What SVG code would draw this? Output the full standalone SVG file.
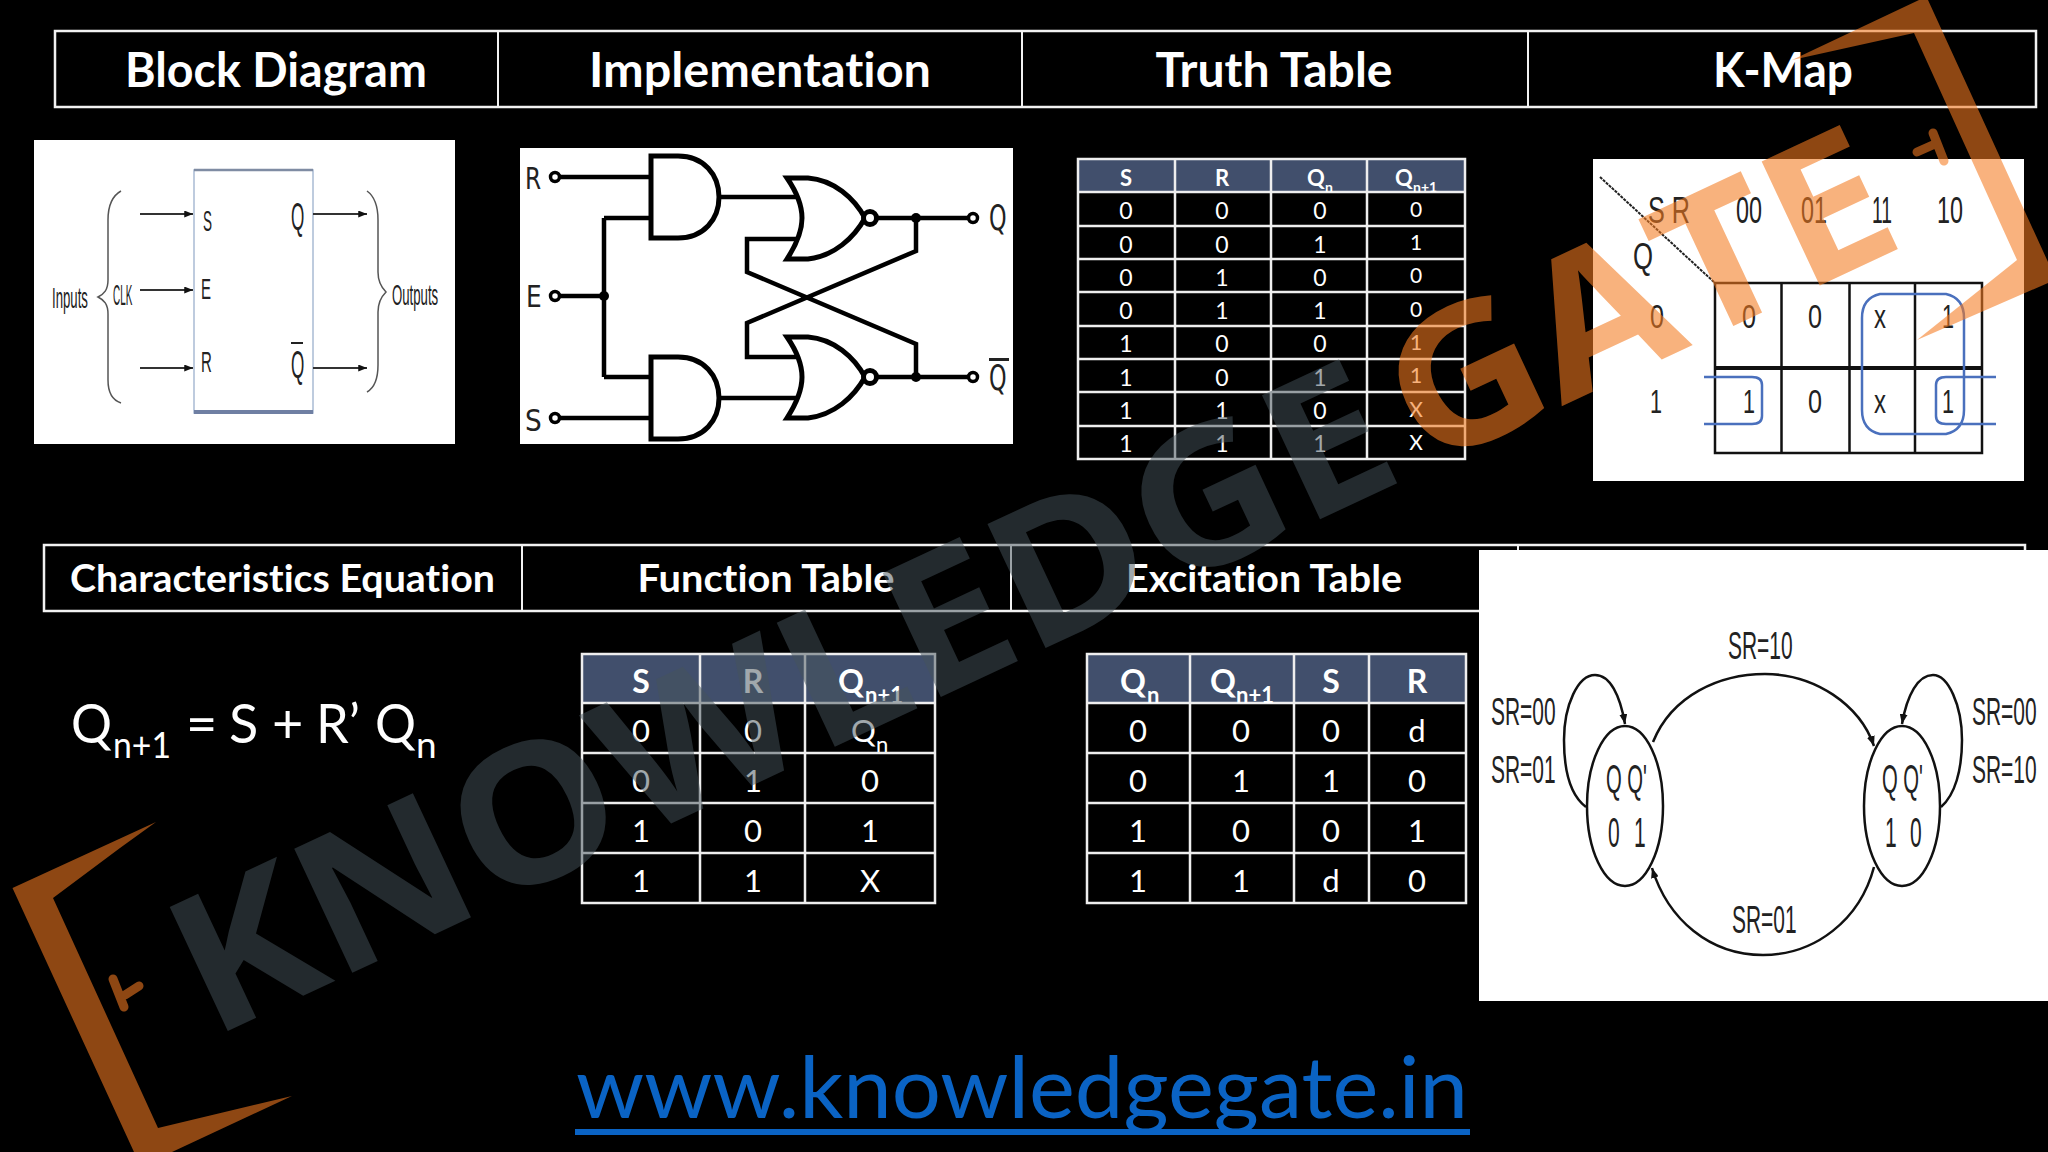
<svg xmlns="http://www.w3.org/2000/svg" width="2048" height="1152" viewBox="0 0 2048 1152">
<defs>
<marker id="ah" viewBox="0 0 10 8" refX="10" refY="4" markerWidth="10" markerHeight="8" markerUnits="userSpaceOnUse" orient="auto"><path d="M0 0L10 4L0 8Z" fill="#111"/></marker>
<marker id="as" viewBox="0 0 10 8" refX="10" refY="4" markerWidth="9" markerHeight="7" markerUnits="userSpaceOnUse" orient="auto"><path d="M0 0L10 4L0 8Z" fill="#111"/></marker>
</defs>
<style>
text{font-variant-ligatures:none}
.hb{fill:none;stroke:#f2f2f2;stroke-width:2.5}
.hl{stroke:#f2f2f2;stroke-width:2}
.ht{font-family:Lato,"Open Sans",sans-serif;font-weight:700;fill:#fff;text-anchor:middle}
.t{font-family:Lato,"Open Sans",sans-serif;fill:#fff;text-anchor:middle}
.tb{font-weight:700}
.tl{fill:none;stroke:#eee;stroke-width:2.5}
.hdr{fill:#414f6c}
.s{text-anchor:start}
.a{font-family:"Liberation Sans",Arial,sans-serif;fill:#222;text-anchor:start}
.w{stroke:#000;stroke-width:4.5;fill:none}
.g{stroke:#000;stroke-width:5;fill:#fff}
.thin{stroke:#333;stroke-width:2;fill:none}
.k{stroke:#111;stroke-width:2.5;fill:none}
.b{stroke:#4a70bd;stroke-width:2.5;fill:none}
.c{stroke:#111;stroke-width:2.5;fill:none}
.wmD{font-family:"Open Sans",sans-serif;font-weight:700;fill:#46545c;opacity:.5}
.wmO{font-family:"Open Sans",sans-serif;font-weight:700;fill:#f47b20;opacity:.58}
.or{fill:#f47b20;opacity:.58}
.ors{stroke:#f47b20;opacity:.58;stroke-width:9;fill:none;stroke-linecap:round}
</style>
<rect width="2048" height="1152" fill="#000"/>

<g id="header-top">
<rect class="hb" x="55" y="31" width="1981" height="76"/>
<path class="hl" d="M498 31V107M1022 31V107M1528 31V107"/>
<text class="ht" x="276" y="87" font-size="47" textLength="302" lengthAdjust="spacingAndGlyphs">Block Diagram</text>
<text class="ht" x="760" y="87" font-size="47" textLength="342" lengthAdjust="spacingAndGlyphs">Implementation</text>
<text class="ht" x="1274" y="87" font-size="47" textLength="237" lengthAdjust="spacingAndGlyphs">Truth Table</text>
<text class="ht" x="1783" y="87" font-size="47" textLength="140" lengthAdjust="spacingAndGlyphs">K-Map</text>
</g>

<g id="header-bottom">
<rect class="hb" x="44" y="545" width="1981" height="66"/>
<path class="hl" d="M522 545V611M1011 545V611M1518 545V550"/>
<text class="ht" x="282.500" y="592" font-size="38" textLength="425" lengthAdjust="spacingAndGlyphs">Characteristics Equation</text>
<text class="ht" x="766" y="592" font-size="38" textLength="257" lengthAdjust="spacingAndGlyphs">Function Table</text>
<text class="ht" x="1264" y="592" font-size="38" textLength="276" lengthAdjust="spacingAndGlyphs">Excitation Table</text>
</g>

<g id="block-diagram">
<rect x="34" y="140" width="421" height="304" fill="#fff"/>
<rect x="194" y="170" width="119" height="243" fill="#fff" stroke="#a9bbd3" stroke-width="1.500"/>
<path d="M194 170H313" stroke="#7f8ca3" stroke-width="2.500"/>
<path d="M194 412H313" stroke="#6f7fa3" stroke-width="4"/>
<g class="thin">
<path marker-end="url(#as)" d="M140 214H193"/><path marker-end="url(#as)" d="M140 290H193"/><path marker-end="url(#as)" d="M140 368H193"/>
<path marker-end="url(#as)" d="M313 214H367"/><path marker-end="url(#as)" d="M313 368H367"/>
<path d="M121 191C112 196 108 205 108 220V280C108 290 104 294 98 297C104 300 108 304 108 314V380C108 392 112 400 121 403" stroke="#555" stroke-width="1.500"/>
<path d="M367 191C374 196 378 205 378 220V272C378 282 382 288 386 292C382 296 378 302 378 312V365C378 378 374 388 367 392" stroke="#555" stroke-width="1.500"/>
</g>
<text class="a" transform="translate(52 308) scale(.44 1)" font-size="30">Inputs</text>
<text class="a" transform="translate(113 305) scale(.33 1)" font-size="30">CLK</text>
<text class="a" transform="translate(392 305) scale(.44 1)" font-size="30">Outputs</text>
<text class="a" transform="translate(203 231) scale(.45 1)" font-size="30">S</text>
<text class="a" transform="translate(201 299) scale(.5 1)" font-size="30">E</text>
<text class="a" transform="translate(201 372) scale(.5 1)" font-size="30">R</text>
<text class="a" transform="translate(291 230) scale(.45 1)" font-size="38">Q</text>
<text class="a" transform="translate(291 378) scale(.45 1)" font-size="38">Q</text>
<path d="M291 343H303" stroke="#222" stroke-width="2"/>
</g>

<g id="implementation">
<rect x="520" y="148" width="493" height="296" fill="#fff"/>
<g id="impl-wires">
<path class="w" d="M560 177H651M560 296H604M604 218V377M604 218H651M604 377H651M560 418H651"/>
<path class="w" d="M719 197H796M719 398H796"/>
<path class="w" d="M796 239H747V272L916 344V377M796 357H747V323L916 251V218"/>
<path class="w" d="M877 218H968M877 377H968"/>
</g>
<circle cx="604" cy="296" r="5" fill="#000"/><circle cx="916" cy="218" r="5" fill="#000"/><circle cx="916" cy="377" r="5" fill="#000"/>
<g id="and-top"><path class="g" d="M651 156H678C704 156 719 175 719 197C719 219 704 238 678 238H651Z"/></g>
<g id="and-bottom"><path class="g" d="M651 357H678C704 357 719 376 719 398C719 420 704 439 678 439H651Z"/></g>
<g id="nor-top"><path class="g" d="M787 178H808C834 180 854 198 865 218C854 238 834 256 808 259H787C798 242 802 230 802 218C802 206 798 194 787 178Z"/><ellipse class="g" cx="870" cy="218" rx="6.500" ry="6.500" stroke-width="3.500"/></g>
<g id="nor-bottom"><path class="g" d="M787 337H808C834 339 854 357 865 377C854 397 834 415 808 418H787C798 401 802 389 802 377C802 365 798 353 787 337Z"/><ellipse class="g" cx="870" cy="377" rx="6.500" ry="6.500" stroke-width="3.500"/></g>
<g fill="#fff" stroke="#000" stroke-width="3.500"><circle cx="555" cy="177" r="4.500"/><circle cx="555" cy="296" r="4.500"/><circle cx="555" cy="418" r="4.500"/><circle cx="973" cy="218" r="4.500"/><circle cx="973" cy="377" r="4.500"/></g>
<g fill="#222" font-family="'DejaVu Sans',sans-serif">
<text transform="translate(525 189) scale(.75 1)" font-size="31">R</text>
<text transform="translate(526 307) scale(.8 1)" font-size="31">E</text>
<text transform="translate(525 431) scale(.85 1)" font-size="31">S</text>
<text transform="translate(989 230) scale(.62 1)" font-size="36">Q</text>
<text transform="translate(989 390) scale(.62 1)" font-size="36">Q</text>
</g>
<path d="M989 359.500H1009" stroke="#222" stroke-width="3"/>
</g>

<g id="truth-table">
<rect class="hdr" x="1078" y="159" width="387" height="33"/>
<rect class="tl" x="1078" y="159" width="387" height="300"/>
<path class="tl" d="M1175 159V459M1271 159V459M1367 159V459M1078 192H1465M1078 226H1465M1078 259H1465M1078 292H1465M1078 326H1465M1078 359H1465M1078 392H1465M1078 426H1465"/>
<g class="t tb" font-size="22">
<text x="1126" y="186">S</text><text x="1222" y="186">R</text>
<text class="s" x="1307" y="186">Q</text><text class="s" x="1325" y="192" font-size="14">n</text>
<text class="s" x="1395" y="186">Q</text><text class="s" x="1413" y="192" font-size="14">n+1</text>
</g>
<g class="t" font-size="23">
<text x="1126" y="219">0</text><text x="1222" y="219">0</text><text x="1320" y="219">0</text><text x="1416" y="217" font-size="21">0</text>
<text x="1126" y="253">0</text><text x="1222" y="253">0</text><text x="1320" y="253">1</text><text x="1416" y="250" font-size="21">1</text>
<text x="1126" y="286">0</text><text x="1222" y="286">1</text><text x="1320" y="286">0</text><text x="1416" y="283" font-size="21">0</text>
<text x="1126" y="319">0</text><text x="1222" y="319">1</text><text x="1320" y="319">1</text><text x="1416" y="317" font-size="21">0</text>
<text x="1126" y="352">1</text><text x="1222" y="352">0</text><text x="1320" y="352">0</text><text x="1416" y="350" font-size="21">1</text>
<text x="1126" y="386">1</text><text x="1222" y="386">0</text><text x="1320" y="386">1</text><text x="1416" y="383" font-size="21">1</text>
<text x="1126" y="419">1</text><text x="1222" y="419">1</text><text x="1320" y="419">0</text><text x="1416" y="417" font-size="21">X</text>
<text x="1126" y="452">1</text><text x="1222" y="452">1</text><text x="1320" y="452">1</text><text x="1416" y="450" font-size="21">X</text>
</g>
</g>

<g id="k-map">
<rect x="1593" y="159" width="431" height="322" fill="#fff"/>
<path d="M1600 177L1715 283" stroke="#222" stroke-width="2" stroke-dasharray="3 1"/>
<path class="k" d="M1715 283H1982V453H1715ZM1781.500 283V453M1849.500 283V453M1915 283V453"/>
<path d="M1715 368H1982" stroke="#111" stroke-width="4"/>
<path class="b" d="M1880 294H1946Q1964 298 1964 318V410Q1964 430 1946 434H1880Q1862 430 1862 410V318Q1862 298 1880 294Z"/>
<path class="b" d="M1704 377H1752Q1762 377 1762 385V416Q1762 424 1752 424H1704"/>
<path class="b" d="M1996 377H1946Q1936 377 1936 385V416Q1936 424 1946 424H1996"/>
<g class="a" font-size="37">
<text x="1648" y="223" textLength="42" lengthAdjust="spacingAndGlyphs">S R</text>
<text x="1736" y="223" textLength="26" lengthAdjust="spacingAndGlyphs">00</text>
<text x="1801" y="223" textLength="26" lengthAdjust="spacingAndGlyphs">01</text>
<text x="1872" y="223" textLength="20" lengthAdjust="spacingAndGlyphs">11</text>
<text x="1937" y="223" textLength="26" lengthAdjust="spacingAndGlyphs">10</text>
<text x="1633" y="269" textLength="20" lengthAdjust="spacingAndGlyphs">Q</text>
</g>
<g class="a" font-size="33">
<text x="1650" y="328" textLength="14" lengthAdjust="spacingAndGlyphs">0</text>
<text x="1650" y="413" textLength="12" lengthAdjust="spacingAndGlyphs">1</text>
<text x="1742" y="328" textLength="14" lengthAdjust="spacingAndGlyphs">0</text>
<text x="1808" y="328" textLength="14" lengthAdjust="spacingAndGlyphs">0</text>
<text x="1874" y="328" textLength="12" lengthAdjust="spacingAndGlyphs">x</text>
<text x="1942" y="328" textLength="12" lengthAdjust="spacingAndGlyphs">1</text>
<text x="1743" y="413" textLength="12" lengthAdjust="spacingAndGlyphs">1</text>
<text x="1808" y="413" textLength="14" lengthAdjust="spacingAndGlyphs">0</text>
<text x="1874" y="413" textLength="12" lengthAdjust="spacingAndGlyphs">x</text>
<text x="1942" y="413" textLength="12" lengthAdjust="spacingAndGlyphs">1</text>
</g>
</g>

<g id="equation">
<g class="t s" font-size="54">
<text x="71" y="743" textLength="41" lengthAdjust="spacingAndGlyphs">Q</text>
<text x="113" y="758" font-size="37" textLength="58" lengthAdjust="spacingAndGlyphs">n+1</text>
<text x="186" y="743">=</text>
<text x="229" y="743">S</text>
<text x="272" y="743">+</text>
<text x="316" y="743" textLength="44" lengthAdjust="spacingAndGlyphs">R’</text>
<text x="375" y="743" textLength="41" lengthAdjust="spacingAndGlyphs">Q</text>
<text x="416" y="758" font-size="37">n</text>
</g>
</g>

<g id="function-table">
<rect class="hdr" x="582" y="654" width="353" height="49"/>
<rect class="tl" x="582" y="654" width="353" height="249"/>
<path class="tl" d="M700 654V903M805 654V903M582 703H935M582 753H935M582 803H935M582 853H935"/>
<g class="t tb" font-size="32">
<text x="641" y="693">S</text><text x="753" y="693">R</text>
<text class="s" x="838" y="693">Q</text><text class="s" x="865" y="703" font-size="22">n+1</text>
</g>
<g class="t" font-size="31">
<text x="641" y="742">0</text><text x="753" y="742">0</text><text class="s" x="851" y="742">Q</text><text class="s" x="876" y="752" font-size="22">n</text>
<text x="641" y="792">0</text><text x="753" y="792">1</text><text x="870" y="792">0</text>
<text x="641" y="842">1</text><text x="753" y="842">0</text><text x="870" y="842">1</text>
<text x="641" y="892">1</text><text x="753" y="892">1</text><text x="870" y="892">X</text>
</g>
</g>

<g id="excitation-table">
<rect class="hdr" x="1087" y="654" width="379" height="49"/>
<rect class="tl" x="1087" y="654" width="379" height="249"/>
<path class="tl" d="M1190 654V903M1294 654V903M1369 654V903M1087 703H1466M1087 753H1466M1087 803H1466M1087 853H1466"/>
<g class="t tb" font-size="32">
<text class="s" x="1120" y="693">Q</text><text class="s" x="1147" y="703" font-size="22">n</text>
<text class="s" x="1210" y="693">Q</text><text class="s" x="1236" y="703" font-size="22">n+1</text>
<text x="1331" y="693">S</text><text x="1417" y="693">R</text>
</g>
<g class="t" font-size="31">
<text x="1138" y="742">0</text><text x="1241" y="742">0</text><text x="1331" y="742">0</text><text x="1417" y="742">d</text>
<text x="1138" y="792">0</text><text x="1241" y="792">1</text><text x="1331" y="792">1</text><text x="1417" y="792">0</text>
<text x="1138" y="842">1</text><text x="1241" y="842">0</text><text x="1331" y="842">0</text><text x="1417" y="842">1</text>
<text x="1138" y="892">1</text><text x="1241" y="892">1</text><text x="1331" y="892">d</text><text x="1417" y="892">0</text>
</g>
</g>

<g id="state-diagram">
<rect x="1479" y="550" width="569" height="451" fill="#fff"/>
<g id="state-connectors">
<path class="c" marker-end="url(#ah)" d="M1653 742C1672 695 1720 674 1765 674C1815 674 1860 705 1874 746"/>
<path class="c" marker-end="url(#ah)" d="M1874 867C1860 920 1815 955 1763 955C1710 955 1668 920 1652 868"/>
<path class="c" marker-end="url(#ah)" d="M1586 807C1570 795 1564 770 1564 740C1564 705 1578 675 1595 675C1610 675 1620 695 1625 724"/>
<path class="c" marker-end="url(#ah)" d="M1941 807C1955 795 1962 770 1962 740C1962 705 1948 675 1933 675C1918 675 1907 695 1902 724"/>
</g>
<g id="state-q0"><ellipse class="c" cx="1625" cy="806" rx="38" ry="80"/>
<text class="a" transform="translate(1606 793) scale(.506 1)" font-size="40">Q Q'</text>
<text class="a" transform="translate(1608 847) scale(.5 1)" font-size="42">0</text>
<text class="a" transform="translate(1634 847) scale(.5 1)" font-size="42">1</text></g>
<g id="state-q1"><ellipse class="c" cx="1902" cy="806" rx="38" ry="80"/>
<text class="a" transform="translate(1882 793) scale(.506 1)" font-size="40">Q Q'</text>
<text class="a" transform="translate(1885 847) scale(.5 1)" font-size="42">1</text>
<text class="a" transform="translate(1910 847) scale(.5 1)" font-size="42">0</text></g>
<g class="a" font-size="39">
<text transform="translate(1491 725) scale(.537 1)">SR=00</text>
<text transform="translate(1491 783) scale(.537 1)">SR=01</text>
<text transform="translate(1972 725) scale(.537 1)">SR=00</text>
<text transform="translate(1972 783) scale(.537 1)">SR=10</text>
<text transform="translate(1728 659) scale(.537 1)">SR=10</text>
<text transform="translate(1732 933) scale(.537 1)">SR=01</text>
</g>
</g>

<g id="website">
<text class="t s" x="576" y="1118" font-size="85" style="fill:#0a63c4" textLength="892" lengthAdjust="spacingAndGlyphs">www.knowledgegate.in</text>
<rect x="575" y="1129" width="895" height="6" fill="#0a63c4"/>
</g>

<g id="watermark">
<text class="wmD" transform="translate(211 1039) rotate(-25.100)" font-size="192" textLength="1322" lengthAdjust="spacingAndGlyphs">KNOWLEDGE</text>
<text class="wmO" transform="translate(211 1039) rotate(-25.100)" x="1340" font-size="192" textLength="535" lengthAdjust="spacingAndGlyphs">GATE</text>
<polygon class="or" points="156,822 12.500,888 134,1152 172,1152 292,1096 158,1128 53,898 120,848"/>
<polygon class="or" points="1792,60 1919,0 1928,0 2048,262 2048,283 1917,340 2017,260 1914,33"/>
<path class="ors" d="M113 979L124 1007M125 995L139 986"/>
<path class="ors" d="M1933 133L1944 161M1917 152L1935 144"/>
</g>
</svg>
